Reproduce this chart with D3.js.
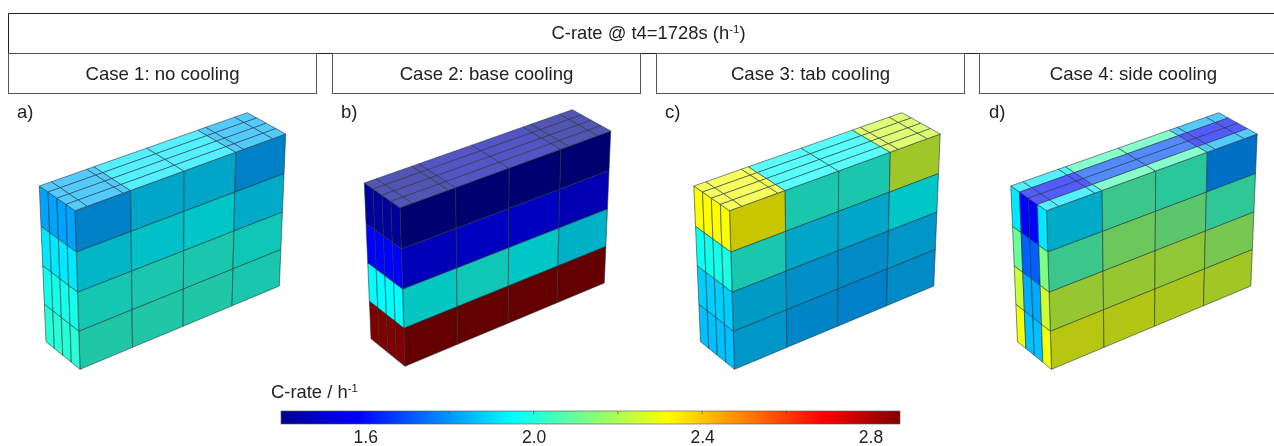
<!DOCTYPE html>
<html><head><meta charset="utf-8">
<script src="https://cdn.jsdelivr.net/npm/d3@7"></script>
<style>
html,body{margin:0;padding:0;background:#fff;overflow:hidden}
svg{display:block;filter:blur(0.4px)}
text{font-family:"Liberation Sans",Arial,sans-serif;fill:#222}
</style></head><body><svg id="c" width="1274" height="446"></svg>
<script>
const chartTitle = "C-rate @ t4=1728s (h";
const caseTitles = ["Case 1: no cooling","Case 2: base cooling","Case 3: tab cooling","Case 4: side cooling"];
const panelLabels = ["a)","b)","c)","d)"];
const colorbarTicks = [1.6,2.0,2.4,2.8];
const colorbarMinor = [1.6,1.8,2.0,2.2,2.4,2.6,2.8];
const colorDomain = [1.4,2.87];
const topBreaks = [0,0.22,0.87,1,2,3,3.16,3.74,4];

// front[row][column], side[row][strip back->front], top[strip back->front][column]
const frontA = [[1.82,1.89,1.89,1.82],[1.92,1.94,1.95,1.90],[1.99,2.0,2.0,1.98],[2.01,2.01,2.01,2.0]];
const sideA  = [[1.82,1.82,1.82,1.82],[1.92,1.92,1.92,1.92],[1.98,1.98,1.98,1.98],[2.01,2.01,2.01,2.01]];
const topA   = [[1.84,1.92,1.92,1.84],[1.84,1.92,1.92,1.84],[1.84,1.92,1.92,1.84],[1.84,1.92,1.92,1.84]];

const frontB = [[1.4,1.4,1.4,1.4],[1.55,1.57,1.57,1.54],[1.96,1.98,1.95,1.91],[2.87,2.87,2.87,2.87]];
const sideB  = [[1.42,1.42,1.42,1.42],[1.58,1.58,1.58,1.58],[1.95,1.95,1.95,1.95],[2.87,2.87,2.87,2.87]];
const topB   = [[1.4,1.44,1.44,1.4],[1.4,1.44,1.44,1.4],[1.4,1.44,1.44,1.4],[1.4,1.44,1.44,1.4]];

const frontC = [[2.32,2.0,2.0,2.245],[2.0,1.89,1.89,1.95],[1.87,1.85,1.84,1.86],[1.86,1.83,1.82,1.84]];
const sideC  = [[2.32,2.32,2.32,2.32],[1.97,1.98,1.98,1.99],[1.88,1.88,1.88,1.88],[1.86,1.86,1.86,1.86]];
const topC   = [[2.30,1.96,1.96,2.25],[2.30,1.96,1.96,2.25],[2.30,1.96,1.96,2.25],[2.30,1.96,1.96,2.25]];

const frontD = [[1.90,2.06,2.03,1.79],[2.06,2.15,2.12,2.04],[2.23,2.23,2.22,2.17],[2.29,2.28,2.27,2.25]];
const sideD  = [[1.92,1.58,1.58,1.92],[2.10,1.72,1.72,2.13],[2.24,1.83,1.83,2.25],[2.30,1.86,1.86,2.30]];
const topD   = [[1.92,2.06,2.06,1.84],[1.60,1.70,1.70,1.60],[1.60,1.70,1.70,1.60],[1.92,2.06,2.06,1.84]];

const panels = [
  {front:frontA,side:sideA,top:topA,dx:0,dy:0},
  {front:frontB,side:sideB,top:topB,dx:325,dy:-3},
  {front:frontC,side:sideC,top:topC,dx:654.5,dy:0},
  {front:frontD,side:sideD,top:topD,dx:971.5,dy:0}
];

const svg = d3.select("#c");

// jet colour scale
const [c0,c1] = colorDomain;
const jetT = [0,1/8,3/8,5/8,7/8,1];
const jetC = ["#00008f","#0000ff","#00ffff","#ffff00","#ff0000","#800000"];
const jet = d3.scaleLinear().domain(jetT.map(t=>c0+t*(c1-c0))).range(jetC).clamp(true);
const shadeFront = v => { const c=d3.rgb(jet(v)); return d3.rgb(c.r*.78,c.g*.78,c.b*.78).formatRgb(); };
const shadeSide = v => jet(v);
const shadeTop = v => d3.interpolateRgb(jet(v),"#fff")(.33);

// perspective map of the unit square on a quad
function homography(q){
  const [[x0,y0],[x1,y1],[x2,y2],[x3,y3]] = q; // (0,0),(1,0),(1,1),(0,1)
  const dx1=x1-x2,dx2=x3-x2,sx=x0-x1+x2-x3,dy1=y1-y2,dy2=y3-y2,sy=y0-y1+y2-y3;
  const det=dx1*dy2-dx2*dy1;
  const g=(sx*dy2-dx2*sy)/det,h=(dx1*sy-sx*dy1)/det;
  const a=x1-x0+g*x1,b=x3-x0+h*x3,d=y1-y0+g*y1,e=y3-y0+h*y3;
  return (u,v)=>{const w=g*u+h*v+1;return [(a*u+b*v+x0)/w,(d*u+e*v+y0)/w];};
}
// silhouette of the cell block in panel a
const BL=[39.3,186],FL=[75,210.7],FR=[285.7,134],BR=[247.3,112.7],FLb=[80,369.3],FRb=[279.3,286],BLb=[46,341.7];
const frontMap = homography([FL,FR,FRb,FLb]);
const sideMap  = homography([BL,FL,FLb,BLb]);
const topMap   = homography([BL,BR,FR,FL]);
const unit = d3.scaleLinear().domain([0,4]).range([0,1]);
const poly = d3.line().curve(d3.curveLinearClosed);
const quad = (map,u0,u1,v0,v1)=>poly([map(unit(u0),unit(v0)),map(unit(u1),unit(v0)),map(unit(u1),unit(v1)),map(unit(u0),unit(v1))]);

function cells(p){
  const out=[];
  p.front.forEach((r,i)=>r.forEach((v,j)=>out.push({d:quad(frontMap,j,j+1,i,i+1),fill:shadeFront(v)})));
  p.side.forEach((r,i)=>r.forEach((v,j)=>out.push({d:quad(sideMap,j,j+1,i,i+1),fill:shadeSide(v)})));
  p.top.forEach((r,i)=>d3.pairs(topBreaks).forEach(([a,b])=>{
    out.push({d:quad(topMap,a,b,i,i+1),fill:shadeTop(r[Math.floor(a)])});
  }));
  return out;
}
const g = svg.selectAll("g.panel").data(panels).join("g").attr("class","panel")
  .attr("transform",d=>`translate(${d.dx},${d.dy})`);
g.selectAll("path").data(cells).join("path").attr("d",d=>d.d).attr("fill",d=>d.fill)
  .attr("stroke","#1d3238").attr("stroke-opacity",.72).attr("stroke-width",.8).attr("stroke-linejoin","round");
const labelX = d3.scalePoint().domain(panelLabels).range([17,989]);
svg.selectAll("text.plabel").data(panelLabels).join("text").attr("class","plabel")
  .attr("x",d=>labelX(d)).attr("y",118).attr("font-size",18.5).text(d=>d);

// header boxes
svg.append("path").attr("d","M1274,13.5H8.5V53.5H1274").attr("fill","none").attr("stroke","#222").attr("stroke-width",1);
const caseX = d3.scaleOrdinal().domain(caseTitles).range([8.5,332.5,656.5,979.5]);
const caseW = d3.scaleOrdinal().domain(caseTitles).range([308,308,308,300]);
svg.selectAll("rect.case").data(caseTitles).join("rect").attr("class","case")
  .attr("x",d=>caseX(d)).attr("y",53.5).attr("width",d=>caseW(d)).attr("height",40)
  .attr("fill","none").attr("stroke","#555").attr("stroke-width",1);
svg.selectAll("text.case").data(caseTitles).join("text").attr("class","case")
  .attr("x",d=>caseX(d)+154).attr("y",80).attr("text-anchor","middle").attr("font-size",18.6).text(d=>d);
const t = svg.append("text").attr("x",648.5).attr("y",39).attr("text-anchor","middle").attr("font-size",18.4);
t.append("tspan").text(chartTitle);
t.append("tspan").attr("dy",-6).attr("font-size",11.5).text("-1");
t.append("tspan").attr("dy",6).text(")");

// colour bar
const cx = d3.scaleLinear().domain(colorDomain).range([281,900]);
const grad = svg.append("defs").append("linearGradient").attr("id","jet");
grad.selectAll("stop").data(jetT).join("stop").attr("offset",d=>d).attr("stop-color",(d,i)=>jetC[i]);
svg.append("rect").attr("x",cx(c0)).attr("y",411).attr("width",cx(c1)-cx(c0)).attr("height",13)
  .attr("fill","url(#jet)").attr("stroke","#555").attr("stroke-width",.6);
svg.selectAll("line.minor").data(colorbarMinor).join("line").attr("class","minor")
  .attr("x1",cx).attr("x2",cx).attr("y1",411).attr("y2",414).attr("stroke","#333").attr("stroke-opacity",.6);
const axis = svg.append("g").attr("transform","translate(0,424)")
  .call(d3.axisBottom(cx).tickValues(colorbarTicks).tickSize(0).tickPadding(3).tickFormat(d3.format(".1f")));
axis.select(".domain").remove();
axis.selectAll("text").attr("font-size",17.5).attr("font-family",null).attr("dy","0.9em");
const lt = svg.append("text").attr("x",271).attr("y",398).attr("font-size",18.4);
lt.append("tspan").text("C-rate / h");
lt.append("tspan").attr("dy",-6).attr("font-size",11.5).text("-1");
</script></body></html>
